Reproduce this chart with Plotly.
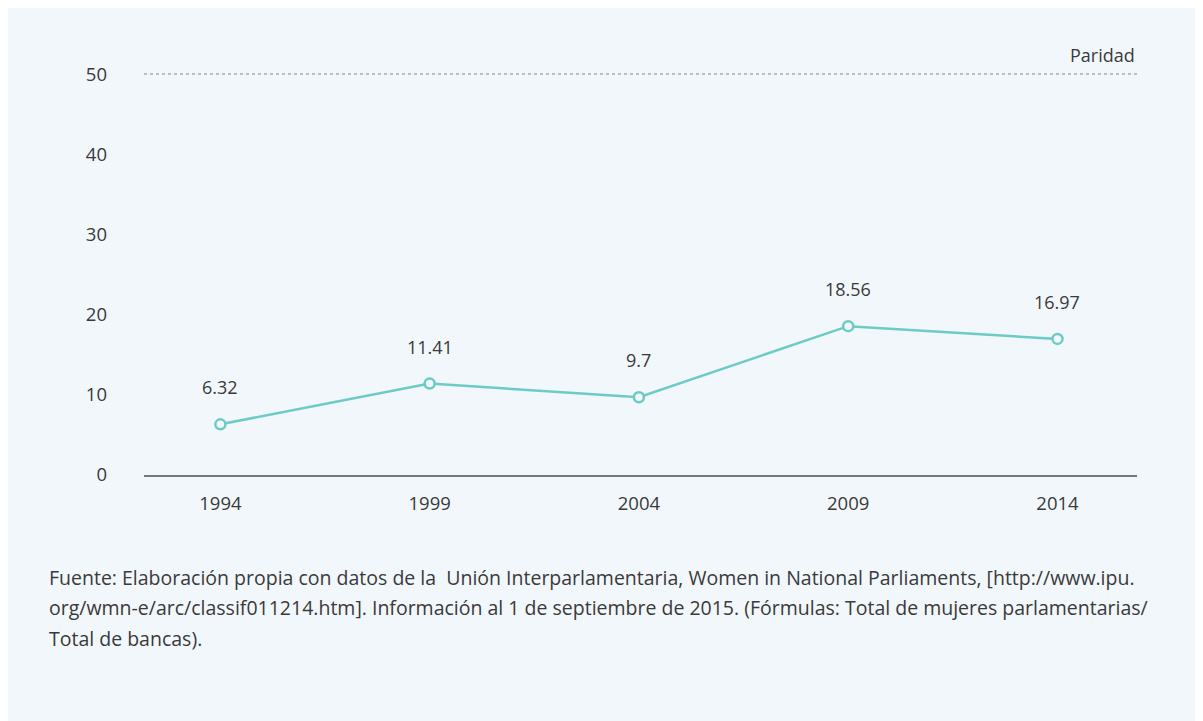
import plotly.graph_objects as go

years = ["1994", "1999", "2004", "2009", "2014"]
values = [6.32, 11.41, 9.7, 18.56, 16.97]
value_labels = ["6.32", "11.41", "9.7", "18.56", "16.97"]
y_ticks = [0, 10, 20, 30, 40, 50]
parity_value = 50
parity_label = "Paridad"
source_lines = [
    "Fuente: Elaboración propia con datos de la  Unión Interparlamentaria, Women in National Parliaments, [http://www.ipu.",
    "org/wmn-e/arc/classif011214.htm]. Información al 1 de septiembre de 2015. (Fórmulas: Total de mujeres parlamentarias/",
    "Total de bancas).",
]

W, H = 1203, 721
L, R, T, B = 136, 1129, 26, 467
PW, PH = R - L, B - T
BG = "#f2f7fc"
TEAL = "#6ccbc5"
TXT = "#3a3a3a"
FONT = "Open Sans"

def px_x(p):
    return (p - L) / PW

def px_y(p):
    return (B - p) / PH

x_idx = list(range(len(years)))

fig = go.Figure()

fig.add_trace(go.Scatter(
    x=x_idx, y=values,
    mode="lines+markers",
    line=dict(color=TEAL, width=2.5),
    marker=dict(symbol="circle", size=10, color=BG, line=dict(color=TEAL, width=2.5)),
    cliponaxis=False,
    hoverinfo="skip",
))

shapes = [
    dict(type="line", xref="paper", yref="y", x0=0, x1=1,
         y0=parity_value, y1=parity_value,
         line=dict(color="#aaaaaa", width=1.5, dash="dot")),
]

annotations = [
    dict(xref="paper", yref="y", x=1, y=parity_value, text=parity_label,
         xanchor="right", yanchor="middle", yshift=19, showarrow=False,
         font=dict(family=FONT, size=18, color=TXT)),
]
for xi, v, lab in zip(x_idx, values, value_labels):
    annotations.append(dict(
        xref="x", yref="y", x=xi, y=v, text=lab,
        xanchor="center", yanchor="middle", yshift=37, showarrow=False,
        font=dict(family=FONT, size=18, color=TXT)))
for i, line in enumerate(source_lines):
    annotations.append(dict(
        xref="paper", yref="paper", x=px_x(39), y=px_y(569 + 30.5 * i),
        text=line, xanchor="left", yanchor="middle", showarrow=False,
        font=dict(family=FONT, size=19.5, color=TXT)))

fig.update_layout(
    width=W, height=H,
    margin=dict(l=L, r=W - R, t=T, b=H - B),
    paper_bgcolor=BG,
    plot_bgcolor=BG,
    showlegend=False,
    shapes=shapes,
    annotations=annotations,
    xaxis=dict(
        range=[-0.365, 4.38],
        tickmode="array", tickvals=x_idx, ticktext=years,
        showgrid=False, zeroline=False,
        showline=True, linecolor="#777777", linewidth=1.5,
        ticks="", ticklabelstandoff=11,
        tickfont=dict(family=FONT, size=18.5, color=TXT),
    ),
    yaxis=dict(
        range=[0, 55],
        tickmode="array", tickvals=y_ticks,
        showgrid=False, zeroline=False, showline=False,
        ticks="", ticklabelstandoff=36,
        tickfont=dict(family=FONT, size=18.5, color=TXT),
    ),
)

fig.write_html("out.html")
